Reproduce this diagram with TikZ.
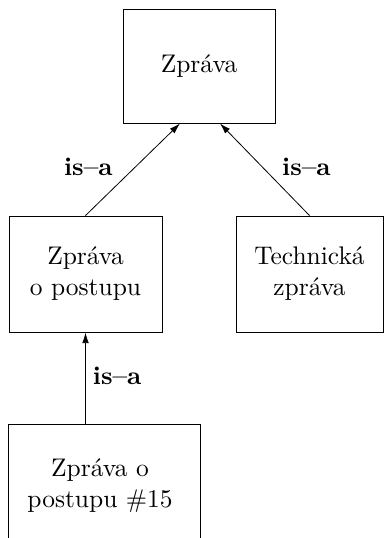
\documentclass[tikz,border=0pt]{standalone}
\usepackage{graphicx}
\usetikzlibrary{arrows.meta,calc}
\newcommand{\velke}[1]{\scalebox{1.91}{\fontsize{10}{11.8}\selectfont\begin{tabular}{@{}c@{}}#1\end{tabular}}}
\begin{document}
\begin{tikzpicture}[x=0.75pt,y=0.75pt,yscale=-1,xscale=1,
    trida/.style={draw, line width=0.7pt, align=center, inner sep=0pt},
    isa/.style={-{Latex[length=8pt,width=5pt]}, line width=0.6pt},
    isalabel/.style={inner sep=0.75pt}]
            \useasboundingbox (0,0) rectangle (385,538);
            \clip (0,0) rectangle (385,538);

            %Tridy
            \node [trida, minimum width=114pt, minimum height=85.5pt] (zprava) at (199,66) {\velke{Zpráva}};
            \node [trida, minimum width=114.75pt, minimum height=87pt] (postup) at (85.5,274) {\velke{Zpráva\\o postupu}};
            \node [trida, minimum width=110.25pt, minimum height=87pt] (technicka) at (309.5,274) {\velke{Technická\\zpráva}};
            \node [trida, minimum width=144pt, minimum height=93pt] (postup15) at (104,486) {\velke{Zpráva o\\postupu \#15}\hspace*{6pt}};

            %Vztahy is-a
            \draw [isa] (postup.north) -- node [isalabel, left=14pt] (isa1) {\velke{\textbf{is--a}}} ($(zprava.south)+(-19,0)$);
            \draw [isa] (technicka.north) -- node [isalabel, right=12pt] (isa2) {\velke{\textbf{is--a}}} ($(zprava.south)+(21,0)$);
            \draw [isa] (postup15.north -| postup.south) -- node [isalabel, right=4.5pt] (isa3) {\velke{\textbf{is--a}}} (postup.south);

        \end{tikzpicture}
\end{document}
